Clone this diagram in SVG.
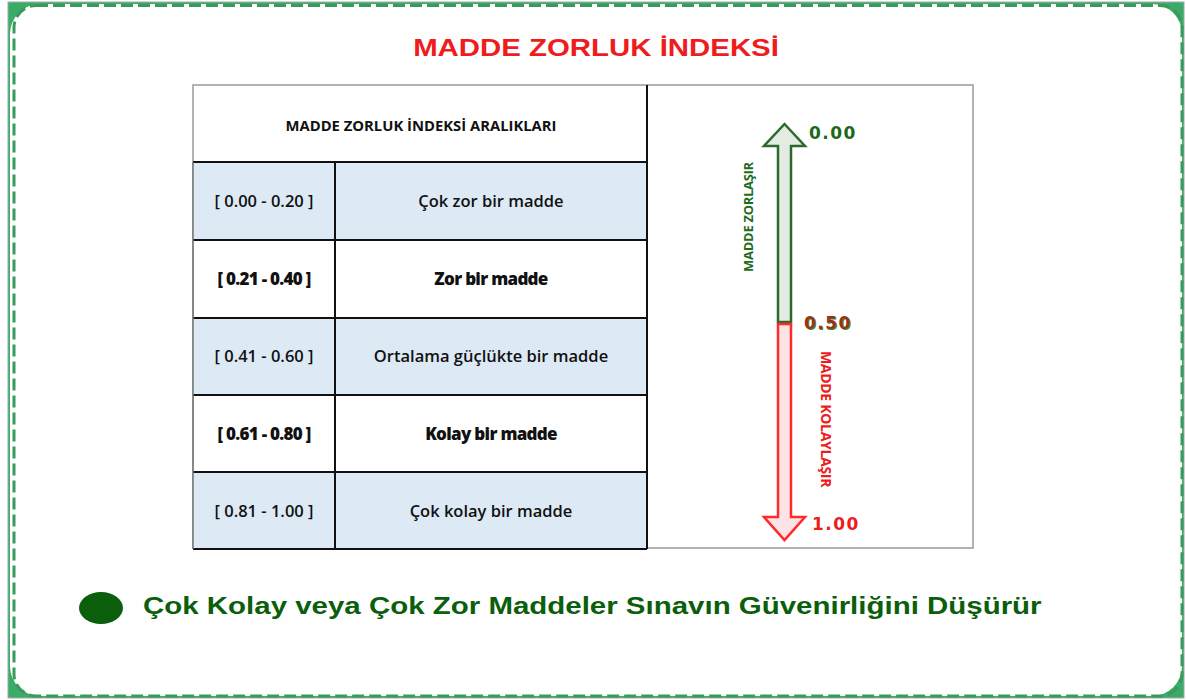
<svg xmlns="http://www.w3.org/2000/svg" width="1186" height="700" viewBox="0 0 1186 700">
<style>
.cell{font-family:"Open Sans","Liberation Sans",sans-serif;font-size:16.5px;font-weight:600;fill:#111;text-anchor:middle}
.heavy{font-weight:800;font-size:17px;letter-spacing:-0.7px}
.head{font-weight:bold;font-size:14.8px}
.grid{stroke:#111;stroke-width:2;fill:none}
.blue{fill:#dde9f5}
.num{font-family:"DejaVu Sans",sans-serif;font-weight:bold;font-size:17px;letter-spacing:1.5px}
.vlab{font-family:"Open Sans","Liberation Sans",sans-serif;font-weight:bold;letter-spacing:-0.3px}
</style>
<g id="frame">
<rect x="8" y="2" width="1176" height="696" fill="#3aac68" stroke="#a8a8a8" stroke-width="1"/>
<rect x="10" y="4" width="1172" height="692" rx="30" fill="#fefefe"/>
<rect x="14" y="5.5" width="1168" height="690.5" rx="22" fill="none" stroke="#3a9a5e" stroke-width="3" stroke-dasharray="12 5"/>
</g>
<text id="title" transform="translate(596 56) scale(1.225 1)" text-anchor="middle" font-family="Liberation Sans, Arial, sans-serif" font-weight="bold" font-size="24" fill="#ee1c1c">MADDE ZORLUK İNDEKSİ</text>
<g id="panel">
<rect x="193" y="85" width="780" height="463" fill="#fff" stroke="#9a9a9a" stroke-width="1.5"/>
</g>
<g id="table">
<rect class="blue" x="193" y="162" width="454" height="78"/>
<rect class="blue" x="193" y="318" width="454" height="77"/>
<rect class="blue" x="193" y="472" width="454" height="77"/>
<line class="grid" x1="647" y1="85" x2="647" y2="549"/>
<line class="grid" x1="193" y1="162" x2="647" y2="162"/>
<line class="grid" x1="193" y1="240" x2="647" y2="240"/>
<line class="grid" x1="193" y1="318" x2="647" y2="318"/>
<line class="grid" x1="193" y1="395" x2="647" y2="395"/>
<line class="grid" x1="193" y1="472" x2="647" y2="472"/>
<line class="grid" x1="193" y1="549" x2="647" y2="549"/>
<line class="grid" x1="335" y1="162" x2="335" y2="549"/>
<line x1="193" y1="162" x2="193" y2="549" stroke="#777" stroke-width="1.5"/>
<text class="cell head" x="421" y="131">MADDE ZORLUK İNDEKSİ ARALIKLARI</text>
<text class="cell" x="264" y="207">[ 0.00 - 0.20 ]</text>
<text class="cell" x="491" y="207">Çok zor bir madde</text>
<text class="cell heavy" x="264" y="285">[ 0.21 - 0.40 ]</text>
<text class="cell heavy" x="491" y="285">Zor bir madde</text>
<text class="cell" x="264" y="362">[ 0.41 - 0.60 ]</text>
<text class="cell" x="491" y="362">Ortalama güçlükte bir madde</text>
<text class="cell heavy" x="264" y="440">[ 0.61 - 0.80 ]</text>
<text class="cell heavy" x="491" y="440">Kolay bir madde</text>
<text class="cell" x="264" y="517">[ 0.81 - 1.00 ]</text>
<text class="cell" x="491" y="517">Çok kolay bir madde</text>
</g>
<g id="arrow-up">
<path d="M778 322 L778 146 L764 146 L784.5 124 L805 146 L791 146 L791 322 Z" fill="#e3ebe3" stroke="#2c6a2c" stroke-width="2.5" stroke-linejoin="miter"/>
<text class="vlab" font-size="13" transform="translate(753 217) rotate(-90)" text-anchor="middle" fill="#1f6b1f">MADDE ZORLAŞIR</text>
<text class="num" x="809" y="139" fill="#1a6a1a">0.00</text>
</g>
<g id="arrow-down">
<path d="M778 324 L791 324 L791 517 L805 517 L784.5 540 L764 517 L778 517 Z" fill="#fde3e6" stroke="#ff2b2b" stroke-width="2.5"/>
<text class="vlab" font-size="14" transform="translate(821 419) rotate(90)" text-anchor="middle" fill="#ee1c1c">MADDE KOLAYLAŞIR</text>
<text class="num" x="812" y="530" fill="#ee1c1c">1.00</text>
</g>
<g id="mid-label">
<text class="num" x="805" y="330" fill="#2e8a2e">0.50</text>
<text class="num" x="804" y="329" fill="#9b3218">0.50</text>
</g>
<g id="footer">
<ellipse cx="101" cy="608" rx="22" ry="16" fill="#0b5e0b"/>
<text transform="translate(143 614) scale(1.228 1)" font-family="Liberation Sans, Arial, sans-serif" font-weight="bold" font-size="24" fill="#0b5e0b">Çok Kolay veya Çok Zor Maddeler Sınavın Güvenirliğini Düşürür</text>
</g>
</svg>
